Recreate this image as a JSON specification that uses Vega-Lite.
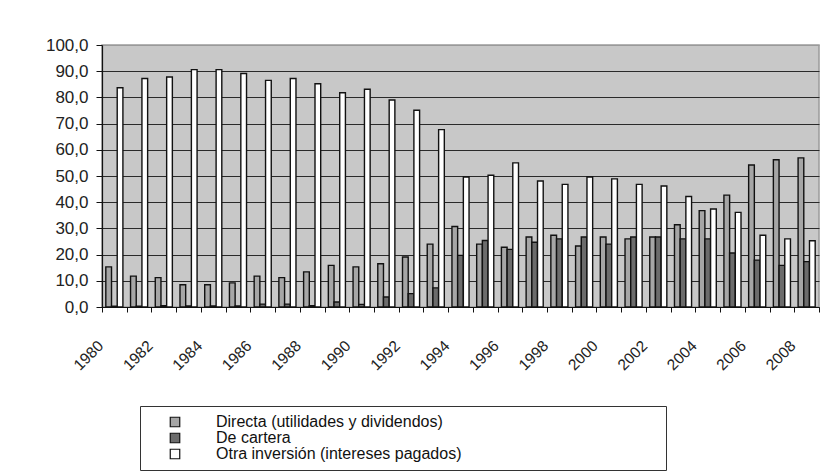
{
  "$schema": "https://vega.github.io/schema/vega-lite/v6.json",
  "autosize": {"type": "none"},
  "width": 717,
  "height": 262,
  "padding": {"left": 102, "top": 45, "right": 6, "bottom": 169},
  "background": "#ffffff",
  "config": {
    "font": "Liberation Sans",
    "view": {"fill": "#c8c8c8", "stroke": "#9a9a9a", "strokeWidth": 1.5},
    "axis": {"labelColor": "#222222", "labelFont": "Liberation Sans"}
  },
  "datasets": {
    "rows": [
      {"year": 1980, "serie": "Directa (utilidades y dividendos)", "valor": 15.3},
      {"year": 1980, "serie": "De cartera", "valor": 0.3},
      {"year": 1980, "serie": "Otra inversión (intereses pagados)", "valor": 83.7},
      {"year": 1981, "serie": "Directa (utilidades y dividendos)", "valor": 11.8},
      {"year": 1981, "serie": "De cartera", "valor": 0.3},
      {"year": 1981, "serie": "Otra inversión (intereses pagados)", "valor": 87.2},
      {"year": 1982, "serie": "Directa (utilidades y dividendos)", "valor": 11.2},
      {"year": 1982, "serie": "De cartera", "valor": 0.5},
      {"year": 1982, "serie": "Otra inversión (intereses pagados)", "valor": 87.8},
      {"year": 1983, "serie": "Directa (utilidades y dividendos)", "valor": 8.5},
      {"year": 1983, "serie": "De cartera", "valor": 0.4},
      {"year": 1983, "serie": "Otra inversión (intereses pagados)", "valor": 90.6},
      {"year": 1984, "serie": "Directa (utilidades y dividendos)", "valor": 8.5},
      {"year": 1984, "serie": "De cartera", "valor": 0.4},
      {"year": 1984, "serie": "Otra inversión (intereses pagados)", "valor": 90.6},
      {"year": 1985, "serie": "Directa (utilidades y dividendos)", "valor": 9.2},
      {"year": 1985, "serie": "De cartera", "valor": 0.4},
      {"year": 1985, "serie": "Otra inversión (intereses pagados)", "valor": 89.1},
      {"year": 1986, "serie": "Directa (utilidades y dividendos)", "valor": 11.8},
      {"year": 1986, "serie": "De cartera", "valor": 1.1},
      {"year": 1986, "serie": "Otra inversión (intereses pagados)", "valor": 86.5},
      {"year": 1987, "serie": "Directa (utilidades y dividendos)", "valor": 11.2},
      {"year": 1987, "serie": "De cartera", "valor": 1.1},
      {"year": 1987, "serie": "Otra inversión (intereses pagados)", "valor": 87.2},
      {"year": 1988, "serie": "Directa (utilidades y dividendos)", "valor": 13.4},
      {"year": 1988, "serie": "De cartera", "valor": 0.5},
      {"year": 1988, "serie": "Otra inversión (intereses pagados)", "valor": 85.2},
      {"year": 1989, "serie": "Directa (utilidades y dividendos)", "valor": 15.9},
      {"year": 1989, "serie": "De cartera", "valor": 1.9},
      {"year": 1989, "serie": "Otra inversión (intereses pagados)", "valor": 81.8},
      {"year": 1990, "serie": "Directa (utilidades y dividendos)", "valor": 15.3},
      {"year": 1990, "serie": "De cartera", "valor": 1.0},
      {"year": 1990, "serie": "Otra inversión (intereses pagados)", "valor": 83.1},
      {"year": 1991, "serie": "Directa (utilidades y dividendos)", "valor": 16.5},
      {"year": 1991, "serie": "De cartera", "valor": 3.8},
      {"year": 1991, "serie": "Otra inversión (intereses pagados)", "valor": 79.0},
      {"year": 1992, "serie": "Directa (utilidades y dividendos)", "valor": 19.1},
      {"year": 1992, "serie": "De cartera", "valor": 5.1},
      {"year": 1992, "serie": "Otra inversión (intereses pagados)", "valor": 75.1},
      {"year": 1993, "serie": "Directa (utilidades y dividendos)", "valor": 24.0},
      {"year": 1993, "serie": "De cartera", "valor": 7.3},
      {"year": 1993, "serie": "Otra inversión (intereses pagados)", "valor": 67.7},
      {"year": 1994, "serie": "Directa (utilidades y dividendos)", "valor": 30.7},
      {"year": 1994, "serie": "De cartera", "valor": 19.7},
      {"year": 1994, "serie": "Otra inversión (intereses pagados)", "valor": 49.6},
      {"year": 1995, "serie": "Directa (utilidades y dividendos)", "valor": 24.0},
      {"year": 1995, "serie": "De cartera", "valor": 25.4},
      {"year": 1995, "serie": "Otra inversión (intereses pagados)", "valor": 50.3},
      {"year": 1996, "serie": "Directa (utilidades y dividendos)", "valor": 22.8},
      {"year": 1996, "serie": "De cartera", "valor": 22.0},
      {"year": 1996, "serie": "Otra inversión (intereses pagados)", "valor": 55.0},
      {"year": 1997, "serie": "Directa (utilidades y dividendos)", "valor": 26.7},
      {"year": 1997, "serie": "De cartera", "valor": 24.7},
      {"year": 1997, "serie": "Otra inversión (intereses pagados)", "valor": 48.1},
      {"year": 1998, "serie": "Directa (utilidades y dividendos)", "valor": 27.4},
      {"year": 1998, "serie": "De cartera", "valor": 26.0},
      {"year": 1998, "serie": "Otra inversión (intereses pagados)", "valor": 46.8},
      {"year": 1999, "serie": "Directa (utilidades y dividendos)", "valor": 23.3},
      {"year": 1999, "serie": "De cartera", "valor": 26.7},
      {"year": 1999, "serie": "Otra inversión (intereses pagados)", "valor": 49.6},
      {"year": 2000, "serie": "Directa (utilidades y dividendos)", "valor": 26.7},
      {"year": 2000, "serie": "De cartera", "valor": 24.0},
      {"year": 2000, "serie": "Otra inversión (intereses pagados)", "valor": 48.9},
      {"year": 2001, "serie": "Directa (utilidades y dividendos)", "valor": 26.0},
      {"year": 2001, "serie": "De cartera", "valor": 26.7},
      {"year": 2001, "serie": "Otra inversión (intereses pagados)", "valor": 46.8},
      {"year": 2002, "serie": "Directa (utilidades y dividendos)", "valor": 26.7},
      {"year": 2002, "serie": "De cartera", "valor": 26.7},
      {"year": 2002, "serie": "Otra inversión (intereses pagados)", "valor": 46.2},
      {"year": 2003, "serie": "Directa (utilidades y dividendos)", "valor": 31.4},
      {"year": 2003, "serie": "De cartera", "valor": 26.0},
      {"year": 2003, "serie": "Otra inversión (intereses pagados)", "valor": 42.2},
      {"year": 2004, "serie": "Directa (utilidades y dividendos)", "valor": 36.8},
      {"year": 2004, "serie": "De cartera", "valor": 26.0},
      {"year": 2004, "serie": "Otra inversión (intereses pagados)", "valor": 37.4},
      {"year": 2005, "serie": "Directa (utilidades y dividendos)", "valor": 42.7},
      {"year": 2005, "serie": "De cartera", "valor": 20.6},
      {"year": 2005, "serie": "Otra inversión (intereses pagados)", "valor": 36.1},
      {"year": 2006, "serie": "Directa (utilidades y dividendos)", "valor": 54.2},
      {"year": 2006, "serie": "De cartera", "valor": 17.9},
      {"year": 2006, "serie": "Otra inversión (intereses pagados)", "valor": 27.4},
      {"year": 2007, "serie": "Directa (utilidades y dividendos)", "valor": 56.2},
      {"year": 2007, "serie": "De cartera", "valor": 15.9},
      {"year": 2007, "serie": "Otra inversión (intereses pagados)", "valor": 26.0},
      {"year": 2008, "serie": "Directa (utilidades y dividendos)", "valor": 56.9},
      {"year": 2008, "serie": "De cartera", "valor": 17.3},
      {"year": 2008, "serie": "Otra inversión (intereses pagados)", "valor": 25.3}
    ]
  },
  "data": {"name": "rows"},
  "mark": {"type": "bar", "stroke": "#111111", "strokeWidth": 1.4},
  "encoding": {
    "x": {
      "field": "year",
      "type": "ordinal",
      "scale": {"paddingInner": 0, "paddingOuter": 0},
      "axis": {
        "title": null,
        "labelAngle": -45,
        "labelAlign": "right",
        "labelBaseline": "top",
        "labelFontSize": 15.5,
        "labelPadding": 26,
        "labelOffset": -19,
        "labelExpr": "datum.value % 2 == 0 ? datum.label : ''",
        "tickBand": "extent",
        "tickSize": 5,
        "tickColor": "#111111",
        "domainColor": "#111111",
        "domainWidth": 1.2,
        "grid": false
      }
    },
    "xOffset": {
      "field": "serie",
      "type": "nominal",
      "sort": ["Directa (utilidades y dividendos)", "De cartera", "Otra inversión (intereses pagados)"],
      "scale": {"paddingInner": 0, "paddingOuter": 0.67}
    },
    "y": {
      "field": "valor",
      "type": "quantitative",
      "scale": {"domain": [0, 100], "nice": false},
      "axis": {
        "title": null,
        "values": [0, 10, 20, 30, 40, 50, 60, 70, 80, 90, 100],
        "labelExpr": "replace(format(datum.value, '.1f'), '.', ',')",
        "labelFontSize": 17,
        "labelPadding": 8,
        "tickSize": 6,
        "tickColor": "#111111",
        "domainColor": "#111111",
        "domainWidth": 1.2,
        "grid": true,
        "gridColor": {"condition": {"test": "datum.value == 100", "value": "#9a9a9a"}, "value": "#2a2a2a"},
        "gridWidth": 1.2
      }
    },
    "fill": {
      "field": "serie",
      "type": "nominal",
      "sort": ["Directa (utilidades y dividendos)", "De cartera", "Otra inversión (intereses pagados)"],
      "scale": {
        "domain": ["Directa (utilidades y dividendos)", "De cartera", "Otra inversión (intereses pagados)"],
        "range": ["#a6a6a6", "#6c6c6c", "#ffffff"]
      },
      "legend": {
        "orient": "none",
        "legendX": 38,
        "legendY": 361,
        "direction": "vertical",
        "title": "\u2800\u2800\u2800\u2800\u2800\u2800\u2800\u2800\u2800\u2800\u2800\u2800\u2800\u2800\u2800\u2800\u2800\u2800",
        "titleOrient": "right",
        "titleFont": "DejaVu Sans",
        "titleFontSize": 14,
        "titleLimit": 400,
        "titlePadding": 0,
        "strokeColor": "#333333",
        "fillColor": "#ffffff",
        "padding": 8,
        "symbolType": "square",
        "symbolSize": 90,
        "symbolStrokeColor": "#111111",
        "symbolStrokeWidth": 1.2,
        "symbolOffset": 19,
        "labelOffset": 33,
        "labelFontSize": 16,
        "labelColor": "#111111",
        "labelLimit": 400,
        "rowPadding": 0
      }
    }
  }
}
